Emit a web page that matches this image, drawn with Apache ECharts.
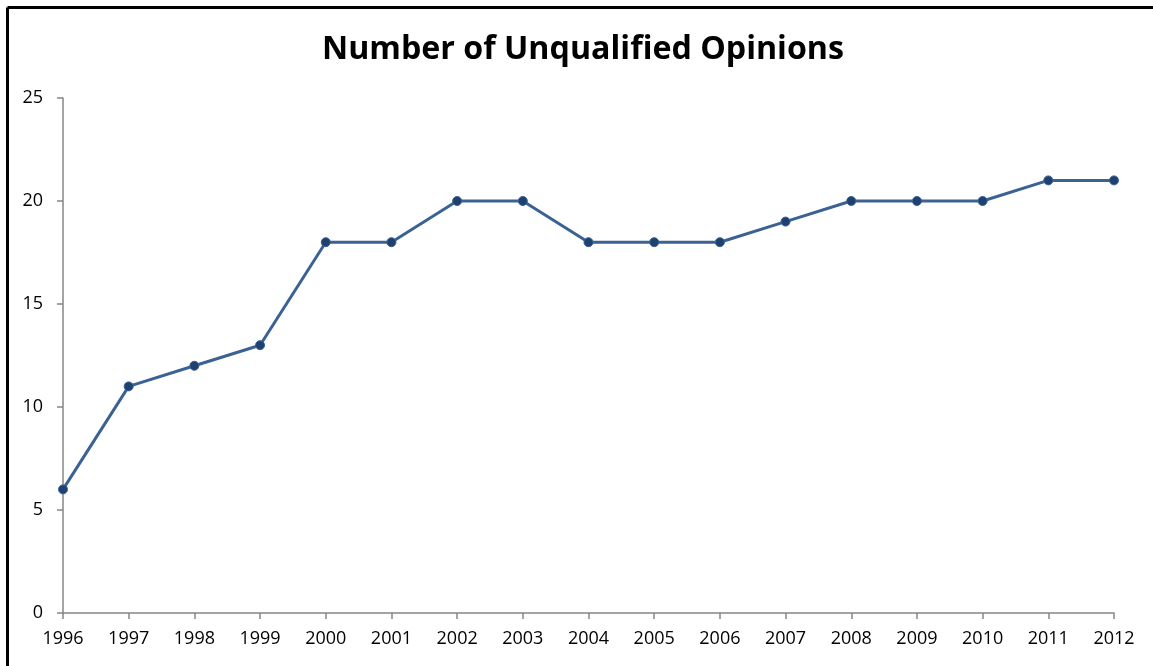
<!DOCTYPE html>
<html><head><meta charset="utf-8">
<script src="https://cdn.jsdelivr.net/npm/echarts@6/dist/echarts.min.js"></script>
<style>html,body{margin:0;padding:0;background:#fff}#c{width:1153px;height:666px}</style>
</head><body><div id="c"></div>
<script>
const titleText = 'Number of Unqualified Opinions';
const years = ['1996','1997','1998','1999','2000','2001','2002','2003','2004','2005','2006','2007','2008','2009','2010','2011','2012'];
const opinions = [6,11,12,13,18,18,20,20,18,18,18,19,20,20,20,21,21];
const yTicks = {min:0, max:25, interval:5};

const chart = echarts.init(document.getElementById('c'), null, {renderer:'canvas'});
chart.setOption({
  animation:false,
  backgroundColor:'#fff',
  title:{text:titleText, left:317, top:29,
    textStyle:{fontFamily:'Open Sans', fontWeight:'bold', fontSize:32.2, color:'#000'}},
  graphic:[
    {type:'line', shape:{x1:7.5,y1:7.5,x2:1153,y2:7.5}, style:{stroke:'#000', lineWidth:3}},
    {type:'line', shape:{x1:7.5,y1:7.5,x2:7.5,y2:666}, style:{stroke:'#000', lineWidth:3}}
  ],
  grid:{left:63, right:39, top:98, bottom:53, containLabel:false},
  xAxis:{type:'category', data:years, boundaryGap:false,
    axisLine:{lineStyle:{color:'#868686', width:1.5}},
    axisTick:{show:true, length:6, lineStyle:{color:'#868686', width:1.5}},
    axisLabel:{interval:0, color:'#000', fontFamily:'Open Sans', fontSize:18, margin:17},
    splitLine:{show:false}},
  yAxis:{type:'value', min:yTicks.min, max:yTicks.max, interval:yTicks.interval,
    axisLine:{show:true, lineStyle:{color:'#868686', width:1.5}},
    axisTick:{show:true, length:6, lineStyle:{color:'#868686', width:1.5}},
    axisLabel:{color:'#000', fontFamily:'Open Sans', fontSize:18, margin:20},
    splitLine:{show:false}},
  series:[{type:'line', data:opinions, symbol:'circle', symbolSize:9,
    lineStyle:{color:'#3a6293', width:3},
    itemStyle:{color:'#1f4170', borderColor:'#3a6293', borderWidth:1}}]
});
</script></body></html>
